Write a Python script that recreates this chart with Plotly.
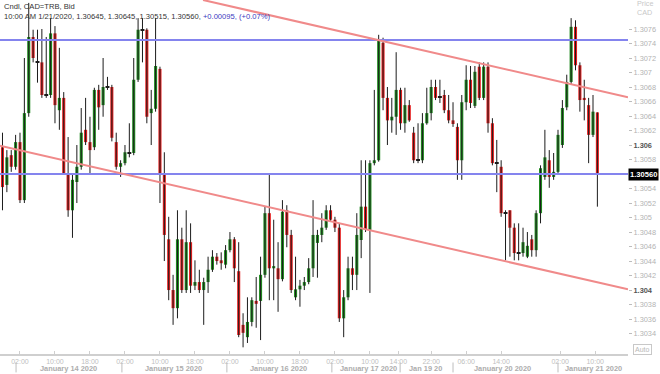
import plotly.graph_objects as go

# ---------------- data (hourly candles, CAD=TRB bid) ----------------
open_ = [1.30597, 1.30545, 1.30586, 1.30570, 1.30604, 1.30524, 1.30644, 1.30749, 1.30714, 1.30714,
         1.30669, 1.30669, 1.30754, 1.30648, 1.30665, 1.30561, 1.30510, 1.30549, 1.30570, 1.30621,
         1.30604, 1.30597, 1.30676, 1.30655, 1.30680, 1.30680, 1.30604, 1.30570, 1.30575, 1.30589,
         1.30589, 1.30690, 1.30759, 1.30759, 1.30644, 1.30650, 1.30705, 1.30561, 1.30470, 1.30400,
         1.30375, 1.30470, 1.30400, 1.30466, 1.30406, 1.30411, 1.30400, 1.30411, 1.30428, 1.30446,
         1.30441, 1.30435, 1.30455, 1.30470, 1.30426, 1.30352, 1.30335, 1.30356, 1.30385, 1.30385,
         1.30421, 1.30506, 1.30430, 1.30430, 1.30415, 1.30510, 1.30476, 1.30390, 1.30401, 1.30406,
         1.30411, 1.30430, 1.30465, 1.30476, 1.30486, 1.30510, 1.30497, 1.30486, 1.30361, 1.30390,
         1.30430, 1.30421, 1.30469, 1.30515, 1.30483, 1.30575, 1.30579, 1.30741, 1.30665, 1.30634,
         1.30639, 1.30676, 1.30630, 1.30655, 1.30617, 1.30579, 1.30579, 1.30630, 1.30644, 1.30680,
         1.30666, 1.30669, 1.30648, 1.30634, 1.30625, 1.30579, 1.30659, 1.30690, 1.30654, 1.30708,
         1.30665, 1.30708, 1.30630, 1.30575, 1.30570, 1.30506, 1.30510, 1.30486, 1.30451, 1.30451,
         1.30446, 1.30470, 1.30455, 1.30506, 1.30556, 1.30579, 1.30556, 1.30563, 1.30600, 1.30652,
         1.30687, 1.30763, 1.30710, 1.30665, 1.30655, 1.30614, 1.30645]
high = [1.30617, 1.30593, 1.30593, 1.30614, 1.30617, 1.30720, 1.30796, 1.30759, 1.30759, 1.30760,
        1.30749, 1.30775, 1.30764, 1.30734, 1.30673, 1.30611, 1.30559, 1.30600, 1.30651, 1.30665,
        1.30639, 1.30679, 1.30683, 1.30720, 1.30694, 1.30683, 1.30617, 1.30579, 1.30600, 1.30630,
        1.30720, 1.30775, 1.30775, 1.30761, 1.30676, 1.30775, 1.30708, 1.30590, 1.30501, 1.30421,
        1.30510, 1.30486, 1.30510, 1.30492, 1.30441, 1.30428, 1.30417, 1.30446, 1.30455, 1.30451,
        1.30452, 1.30462, 1.30480, 1.30473, 1.30466, 1.30368, 1.30390, 1.30390, 1.30418, 1.30446,
        1.30515, 1.30561, 1.30497, 1.30466, 1.30524, 1.30517, 1.30483, 1.30446, 1.30414, 1.30418,
        1.30444, 1.30524, 1.30483, 1.30506, 1.30517, 1.30517, 1.30501, 1.30492, 1.30400, 1.30446,
        1.30446, 1.30506, 1.30579, 1.30579, 1.30579, 1.30676, 1.30752, 1.30748, 1.30680, 1.30665,
        1.30728, 1.30679, 1.30679, 1.30662, 1.30625, 1.30630, 1.30644, 1.30679, 1.30690, 1.30690,
        1.30690, 1.30676, 1.30669, 1.30659, 1.30630, 1.30669, 1.30710, 1.30709, 1.30709, 1.30714,
        1.30714, 1.30714, 1.30637, 1.30607, 1.30579, 1.30510, 1.30510, 1.30492, 1.30492, 1.30486,
        1.30480, 1.30476, 1.30510, 1.30572, 1.30621, 1.30593, 1.30589, 1.30621, 1.30662, 1.30697,
        1.30775, 1.30772, 1.30714, 1.30690, 1.30665, 1.30669, 1.30645]
low = [1.30510, 1.30535, 1.30563, 1.30566, 1.30520, 1.30520, 1.30639, 1.30714, 1.30686, 1.30665,
       1.30665, 1.30665, 1.30630, 1.30621, 1.30559, 1.30501, 1.30472, 1.30520, 1.30566, 1.30600,
       1.30561, 1.30593, 1.30621, 1.30639, 1.30676, 1.30605, 1.30566, 1.30556, 1.30572, 1.30583,
       1.30586, 1.30687, 1.30714, 1.30630, 1.30600, 1.30646, 1.30520, 1.30440, 1.30386, 1.30352,
       1.30361, 1.30396, 1.30396, 1.30396, 1.30400, 1.30396, 1.30352, 1.30396, 1.30425, 1.30435,
       1.30428, 1.30430, 1.30452, 1.30411, 1.30335, 1.30321, 1.30327, 1.30350, 1.30348, 1.30331,
       1.30417, 1.30386, 1.30386, 1.30370, 1.30412, 1.30459, 1.30396, 1.30386, 1.30377, 1.30400,
       1.30408, 1.30418, 1.30417, 1.30466, 1.30483, 1.30494, 1.30480, 1.30356, 1.30335, 1.30386,
       1.30400, 1.30400, 1.30444, 1.30480, 1.30396, 1.30572, 1.30577, 1.30648, 1.30600, 1.30617,
       1.30614, 1.30621, 1.30617, 1.30632, 1.30575, 1.30575, 1.30575, 1.30628, 1.30634, 1.30662,
       1.30658, 1.30644, 1.30630, 1.30625, 1.30552, 1.30552, 1.30648, 1.30651, 1.30651, 1.30662,
       1.30662, 1.30617, 1.30572, 1.30535, 1.30501, 1.30441, 1.30446, 1.30441, 1.30441, 1.30446,
       1.30444, 1.30446, 1.30446, 1.30492, 1.30552, 1.30541, 1.30552, 1.30559, 1.30596, 1.30648,
       1.30683, 1.30703, 1.30646, 1.30634, 1.30575, 1.30611, 1.30515]
close = [1.30542, 1.30583, 1.30570, 1.30604, 1.30524, 1.30644, 1.30749, 1.30720, 1.30714, 1.30669,
         1.30669, 1.30754, 1.30655, 1.30665, 1.30561, 1.30510, 1.30552, 1.30570, 1.30617, 1.30604,
         1.30593, 1.30676, 1.30652, 1.30680, 1.30680, 1.30610, 1.30570, 1.30575, 1.30590, 1.30589,
         1.30690, 1.30759, 1.30759, 1.30639, 1.30650, 1.30709, 1.30561, 1.30476, 1.30400, 1.30375,
         1.30470, 1.30400, 1.30466, 1.30406, 1.30411, 1.30400, 1.30411, 1.30428, 1.30446, 1.30440,
         1.30437, 1.30455, 1.30470, 1.30430, 1.30338, 1.30341, 1.30356, 1.30386, 1.30381, 1.30421,
         1.30506, 1.30430, 1.30433, 1.30415, 1.30508, 1.30476, 1.30400, 1.30401, 1.30406, 1.30411,
         1.30430, 1.30476, 1.30476, 1.30486, 1.30510, 1.30497, 1.30486, 1.30361, 1.30390, 1.30430,
         1.30421, 1.30476, 1.30515, 1.30483, 1.30575, 1.30579, 1.30745, 1.30665, 1.30634, 1.30639,
         1.30676, 1.30630, 1.30655, 1.30634, 1.30579, 1.30579, 1.30630, 1.30644, 1.30680, 1.30665,
         1.30666, 1.30648, 1.30634, 1.30629, 1.30579, 1.30659, 1.30690, 1.30658, 1.30701, 1.30665,
         1.30708, 1.30630, 1.30575, 1.30575, 1.30506, 1.30506, 1.30486, 1.30451, 1.30451, 1.30466,
         1.30461, 1.30455, 1.30506, 1.30568, 1.30583, 1.30556, 1.30563, 1.30614, 1.30651, 1.30687,
         1.30763, 1.30710, 1.30662, 1.30662, 1.30614, 1.30646, 1.30560]

# x-axis labels (bar-index positions)
time_ticks = [4, 12, 20, 28, 36, 44, 52, 60, 68, 76, 84, 90.5, 98, 106, 114, 127.5, 135.5]
time_labels = ["02:00", "10:00", "18:00", "02:00", "10:00", "18:00", "02:00", "10:00", "18:00",
               "02:00", "10:00", "14:00", "22:00", "06:00", "14:00", "02:00", "10:00"]
day_bounds = [3.1, 27.3, 51.3, 75.3, 90.9, 103.0, 127.0]
day_centers = [15, 39, 63, 83.6, 96.6, 114.2, 135]
day_labels = ["January 14 2020", "January 15 2020", "January 16 2020", "January 17 2020",
              "Jan 19 20", "January 20 2020", "January 21 2020"]

# price ticks
price_ticks = [round(1.3034 + 0.0002 * k, 4) for k in range(22)]

# drawn studies: horizontal levels and channel trend lines (index, price)
h_levels = [1.30745, 1.30560]
upper_trend = [(45.85, 1.30800), (143.0, 1.30666)]
lower_trend = [(-0.57, 1.30599), (143.0, 1.30401)]
last_price = 1.30560

# ---------------- figure ----------------
X0, X1 = -0.57, 143.0
GREEN, RED = "#1f8b1f", "#e41d1d"
FONT = "Liberation Sans"

fig = go.Figure()

wx, wy = [], []
for i, (h, l) in enumerate(zip(high, low)):
    wx += [i, i, None]
    wy += [l, h, None]
fig.add_trace(go.Scatter(x=wx, y=wy, mode="lines", line=dict(color="#1c1c1c", width=1),
                         hoverinfo="skip"))

groups = {"up": ([], [], []), "down": ([], [], []), "doji": ([], [], [])}
for i, (o, c) in enumerate(zip(open_, close)):
    d = abs(c - o)
    key = "doji" if d < 0.00002 else ("up" if c > o else "down")
    xs, bs, hs = groups[key]
    xs.append(i)
    bs.append(min(o, c) if key != "doji" else (o + c) / 2 - 0.000006)
    hs.append(d if key != "doji" else 0.000012)
colors = {"up": GREEN, "down": RED, "doji": "#1c1c1c"}
for k, (xs, bs, hs) in groups.items():
    fig.add_trace(go.Bar(x=xs, y=hs, base=bs, width=0.7 if k != "doji" else 0.9,
                         marker=dict(color=colors[k], line=dict(width=0)), hoverinfo="skip"))

shapes = []
for lv in h_levels:
    shapes.append(dict(type="line", xref="x", yref="y", x0=X0, x1=X1, y0=lv, y1=lv,
                       line=dict(color="#8484ee", width=2)))
for tl in (upper_trend, lower_trend):
    shapes.append(dict(type="line", xref="x", yref="y", x0=tl[0][0], y0=tl[0][1],
                       x1=tl[1][0], y1=tl[1][1], line=dict(color="#f08a8a", width=2)))
for b in day_bounds:
    shapes.append(dict(type="line", xref="x", yref="paper", x0=b, x1=b, y0=-0.024, y1=-0.052,
                       line=dict(color="#bdbdbd", width=1)))

def ptxt(p):
    s = ("%.4f" % p).rstrip("0")
    if abs(p - 1.306) < 1e-7 or abs(p - 1.304) < 1e-7:
        return '<b><span style="color:#555">%s</span></b>' % s
    if abs(p - 1.3056) < 1e-7:
        return ""
    return s

annotations = [
    dict(xref="paper", yref="paper", x=0.003, y=0.999, xanchor="left", yanchor="top",
         showarrow=False, align="left",
         text='Cndl, CAD=TRB, Bid<br>10:00 AM 1/21/2020, 1.30645, 1.30645, 1.30515, 1.30560, '
              '<span style="color:#3a3ac0">+0.00095, (+0.07%)</span>',
         font=dict(family=FONT, size=7.6, color="#333")),
    dict(xref="paper", yref="paper", x=1.027, y=0.99, xanchor="center", yanchor="middle",
         showarrow=False, text="Price", font=dict(family=FONT, size=7.2, color="#c8c8c8")),
    dict(xref="paper", yref="paper", x=1.027, y=0.966, xanchor="center", yanchor="middle",
         showarrow=False, text="CAD", font=dict(family=FONT, size=7.2, color="#c8c8c8")),
    dict(xref="paper", yref="y", x=1.0, y=last_price, xanchor="left", yanchor="middle",
         showarrow=False, text="<b>1.30560</b>", bgcolor="#000", borderpad=1,
         font=dict(family=FONT, size=7.6, color="#fff")),
    dict(xref="paper", yref="paper", x=1.008, y=0.012, xanchor="left", yanchor="middle",
         showarrow=False, text="Auto", bordercolor="#c8c8c8", borderwidth=1, borderpad=1,
         font=dict(family=FONT, size=7, color="#b8b8b8")),
]
for c, t in zip(day_centers, day_labels):
    annotations.append(dict(xref="x", yref="paper", x=c, y=-0.04, xanchor="center",
                            yanchor="middle", showarrow=False, text="<b>%s</b>" % t,
                            font=dict(family=FONT, size=7.4, color="#adadad")))

fig.update_layout(
    width=660, height=374, margin=dict(l=0, r=32, t=0, b=20),
    plot_bgcolor="white", paper_bgcolor="white", showlegend=False, barmode="overlay",
    font=dict(family=FONT, size=7.5, color="#aaa"),
    shapes=shapes, annotations=annotations,
    xaxis=dict(range=[X0, X1], tickvals=time_ticks, ticktext=time_labels, showgrid=False,
               zeroline=False, showline=True, linecolor="#cfcfcf", linewidth=2,
               ticks="inside", ticklen=3, tickcolor="#cfcfcf",
               tickfont=dict(family=FONT, size=7, color="#c0c0c0")),
    yaxis=dict(side="right", range=[1.303118, 1.3080], tickvals=price_ticks,
               ticktext=[ptxt(p) for p in price_ticks], showgrid=False, zeroline=False,
               ticks="outside", ticklen=3, tickcolor="#bdbdbd",
               tickfont=dict(family=FONT, size=7.4, color="#b3b3b3")),
)

fig.write_html("out.html")
